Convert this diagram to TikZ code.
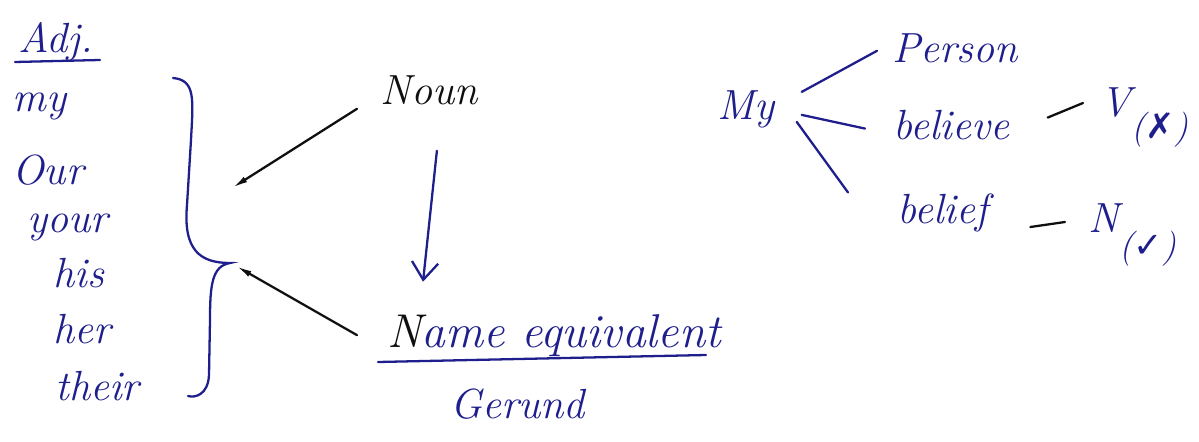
\documentclass[tikz,border=0pt]{standalone}
\usepackage{fontspec}
\newfontfamily\marksfont{DejaVu Sans}
\usepackage{tikz}
\usetikzlibrary{positioning,arrows.meta}
\definecolor{ink}{RGB}{30,30,140}
\definecolor{pencil}{RGB}{15,15,15}
\tikzset{every node/.style={font=\fontsize{24}{28}\selectfont\itshape}}

\begin{document}
\begin{tikzpicture}[
  x=0.02cm, y=-0.02cm,
  word/.style={text=ink, inner sep=0pt, anchor=base west},
  link/.style={draw=ink, line width=1.3pt, line cap=round},
  blackline/.style={draw=pencil, line width=1.3pt, line cap=round},
  nib/.style={-{Latex[length=9pt,width=3.5pt]}},
  downarrow/.style={-{Straight Barb[length=10pt,width=15pt]}}
]
\useasboundingbox (0,0) rectangle (1199,442);

% left column
\node[word] (adj) at (18,53) {Adj.};
\draw[link] (adj.base west) ++(-3,9) -- ++(85,-2);
\node[word] (my) at (12,112) {my};
\node[word] (our) at (12,185) {Our};
\node[word] (your) at (27,233) {your};
\node[word] (his) at (53,287) {his};
\node[word] (her) at (53,343) {her};
\node[word] (their) at (55,400) {their};

% brace
\draw[link] (173,78) .. controls (196,80) and (193,100) .. (191,140)
  -- (187,205) .. controls (183,250) and (200,263) .. (230,263)
  .. controls (212,266) and (210,285) .. (210,320)
  -- (209,375) .. controls (208,395) and (195,398) .. (188,396);
\coordinate (upend) at (232,188);
\coordinate (lowend) at (236,266);

% middle
\node[word, text=pencil] (noun) at (380,105) {Noun};
\node[word, font=\fontsize{27}{30}\selectfont\itshape] (name) at (387,347) {\textcolor{pencil}{N}ame equivalent};
\node[word] (gerund) at (450,418) {Gerund};
\draw[link] ([shift={(-9,15)}]name.base west) -- ([shift={(-15,8)}]name.base east);

\draw[blackline, nib] ([shift={(-23,18)}]noun.west) -- (upend);
\draw[blackline, nib] ([shift={(-30,0)}]name.west) -- (lowend);
\draw[link, downarrow] ([shift={(8,45)}]noun.south) -- ([shift={(-131,-32)}]name.north);

% right side
\node[word] (My) at (717,120) {My};
\node[word] (person) at (892,63) {Person};
\node[word] (believe) at (893,140) {believe};
\node[word] (belief) at (897,223) {belief};
\node[word] (vmark) at (1100,117) {V\fontsize{20}{22}\selectfont\raisebox{-12pt}{({\marksfont ✗})}};
\node[word] (nmark) at (1088,233) {N\fontsize{20}{22}\selectfont\raisebox{-14pt}{({\marksfont ✓})}};

\draw[link] ([shift={(27,-18)}]My.east) -- ([shift={(-15,2)}]person.west);
\draw[link] ([shift={(27,5)}]My.east) -- ([shift={(-28,3)}]believe.west);
\draw[link] ([shift={(22,12)}]My.east) -- ([shift={(-49,-20)}]belief.west);
\draw[blackline] ([shift={(38,-8)}]believe.east) -- ([shift={(-17,-14)}]vmark.base west);
\draw[blackline] ([shift={(42,4)}]belief.base east) -- ([shift={(-23,-11)}]nmark.base west);
\end{tikzpicture}
\end{document}
